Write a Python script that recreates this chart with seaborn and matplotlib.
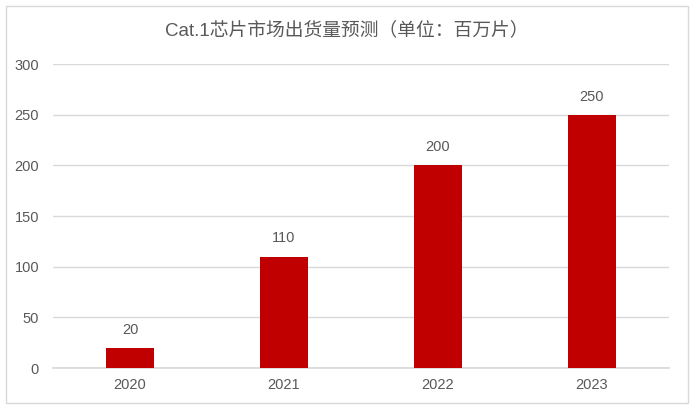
import matplotlib
matplotlib.use("Agg")
import matplotlib.pyplot as plt
import seaborn as sns
import pandas as pd
from matplotlib.patches import Rectangle

# chart data
years = ["2020", "2021", "2022", "2023"]
shipments = [20, 110, 200, 250]
title = "Cat.1芯片市场出货量预测（单位：百万片）"

df = pd.DataFrame({"year": years, "shipments": shipments})

sns.set_theme(style="white")
plt.rcParams['font.family'] = ['Liberation Sans', 'Noto Sans CJK SC', 'DejaVu Sans']

text_color = "#595959"
grid_color = "#D9D9D9"

fig = plt.figure(figsize=(6.93, 4.08), dpi=100)
ax = fig.add_axes([53/693, 40/408, 616/693, 304/408])

sns.barplot(data=df, x="year", y="shipments", color="#C00000", width=0.31,
            saturation=1, linewidth=0, ax=ax, zorder=3)
ax.bar_label(ax.containers[0], padding=8, fontsize=10.5, color=text_color)

ax.set_ylim(0, 300)
ax.set_yticks(range(0, 301, 50))
ax.set_xlim(-0.5, len(years) - 0.5)
ax.yaxis.grid(True, color=grid_color, linewidth=1, zorder=0)
ax.set_axisbelow(True)
for side in ["top", "right", "left"]:
    ax.spines[side].set_visible(False)
ax.spines["bottom"].set_color(grid_color)
ax.tick_params(axis="both", length=0, labelsize=10.5, labelcolor=text_color)
ax.tick_params(axis="y", pad=10)
ax.tick_params(axis="x", pad=7)
ax.set_xlabel("")
ax.set_ylabel("")

fig.text(0.5, 1 - 30/408, title, ha="center", va="center", fontsize=13.5, color=text_color)

fig.add_artist(Rectangle((5.5/693, 5.5/408), 682/693, 397/408, transform=fig.transFigure,
                         fill=False, edgecolor=grid_color, linewidth=1))

fig.savefig("out.png", dpi=100)
